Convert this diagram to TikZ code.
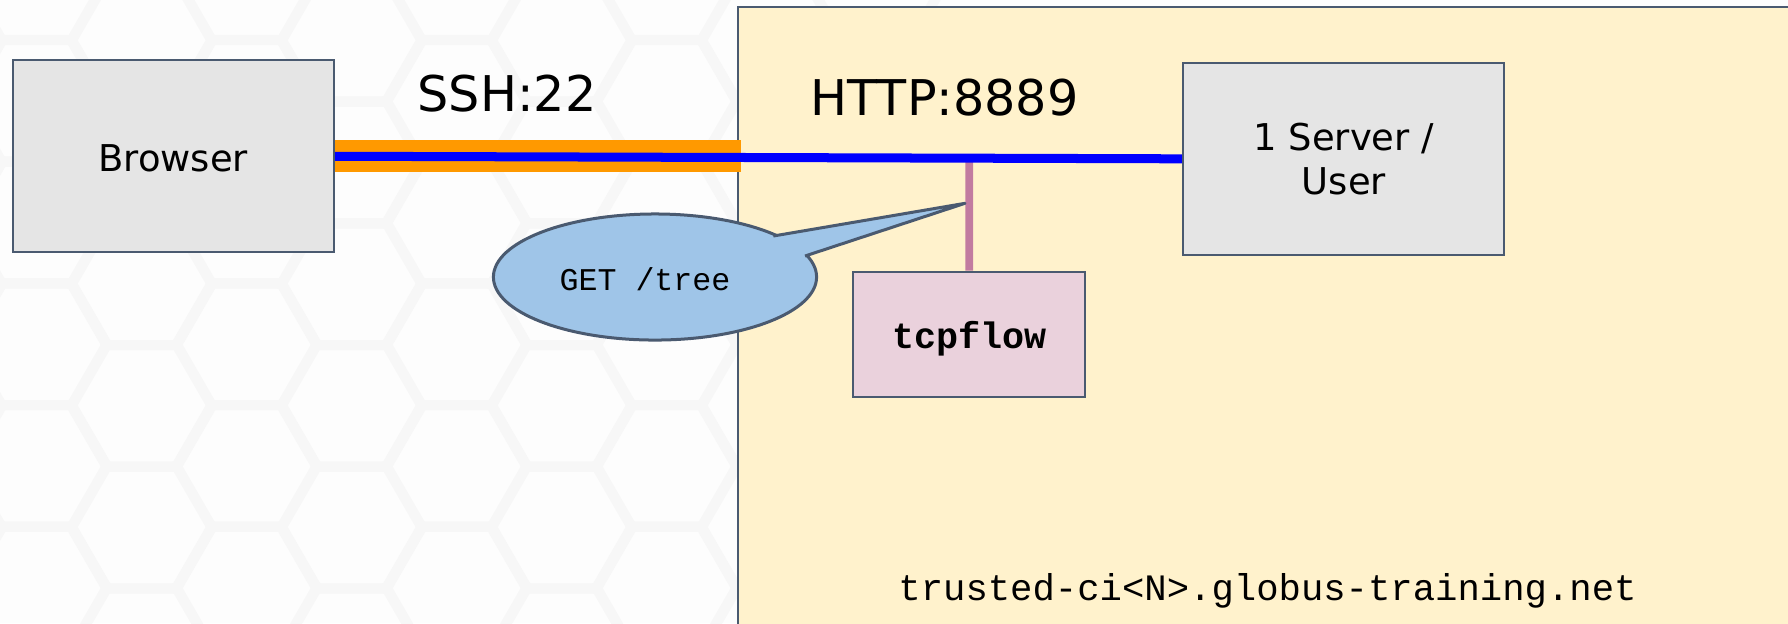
\documentclass[tikz,border=0pt]{standalone}
\usepackage{fontspec}
\setmainfont{DejaVu Sans}
\newfontfamily\monofont{Liberation Mono}
\usetikzlibrary{shapes.geometric}
\pgfdeclarelayer{bg}
\pgfdeclarelayer{wires}
\pgfsetlayers{bg,wires,main}
\definecolor{edgec}{HTML}{4A5A70}
\definecolor{boxgray}{HTML}{E5E5E5}
\definecolor{hostyellow}{HTML}{FFF2CC}
\definecolor{flowpink}{HTML}{EAD1DC}
\definecolor{callblue}{HTML}{9FC5E8}
\definecolor{tapmagenta}{HTML}{C27BA0}
\definecolor{sshorange}{HTML}{FF9900}
\definecolor{httpblue}{HTML}{0000FF}
\definecolor{hexgray}{HTML}{F7F7F7}
\definecolor{hexfill}{HTML}{FDFDFD}
\tikzset{
  hexline/.style={draw=hexgray, line width=0.10cm},
  hostarea/.style={draw=edgec, fill=hostyellow, line width=0.02cm},
  hostbox/.style={draw=edgec, line width=0.02cm, fill=boxgray, inner sep=0pt,
    minimum width=3.21cm, minimum height=1.915cm, align=center,
    font=\fontsize{10.5pt}{12.5pt}\selectfont},
  flowbox/.style={draw=edgec, line width=0.02cm, fill=flowpink, inner sep=0pt,
    minimum width=2.317cm, minimum height=1.25cm,
    font=\monofont\bfseries\fontsize{10.45pt}{12pt}\selectfont},
  bubblestyle/.style={ellipse, draw=edgec, fill=callblue, line width=0.03cm,
    inner sep=0pt, minimum width=3.23cm, minimum height=1.26cm},
  bubbletail/.style={draw=edgec, line width=0.03cm, line join=round},
  protolabel/.style={inner sep=0pt, anchor=base west, font=\fontsize{14pt}{16pt}\selectfont},
  monolabel/.style={inner sep=0pt, anchor=base, font=\monofont\fontsize{9pt}{11pt}\selectfont},
  hostlabel/.style={inner sep=0pt, anchor=base, font=\monofont\fontsize{10.6pt}{12pt}\selectfont},
  sshline/.style={draw=sshorange, line width=0.316cm},
  httpline/.style={draw=httpblue, line width=0.09cm},
  tapline/.style={draw=tapmagenta, line width=0.077cm}
}
\begin{document}
\begin{tikzpicture}[x=0.01cm,y=-0.01cm]
\useasboundingbox (0,0) rectangle (1788,623);
\begin{pgfonlayer}{bg}
  \fill[hexfill] (0,0) rectangle (1788,623);
  \foreach \k in {-1,...,8}{
    \pgfmathsetmacro{\cx}{36.7+105*\k}
    \pgfmathsetmacro{\yo}{mod(\k,2)==0 ? -20.9 : 40.8}
    \foreach \m in {0,...,6}{
      \pgfmathsetmacro{\cy}{\yo+121.7*\m}
      \draw[hexline] (\cx,\cy) +(70.2,0) -- +(35.1,60.8) -- +(-35.1,60.8)
        -- +(-70.2,0) -- +(-35.1,-60.8) -- +(35.1,-60.8) -- cycle;
    }
  }
  \draw[hostarea] (738.3,7.3) rectangle (1800,640);
\end{pgfonlayer}

\node[hostbox, text height=0.305cm, text depth=0pt] (browser) at (173.25,156.25) {Browser};
\node[hostbox] (server) at (1343.8,158.8) {1 Server /\\User};
\node[flowbox, text height=0.3cm, text depth=0.018cm] (tcpflow) at (969.2,334.2) {tcpflow};

\node[protolabel] (ssh) at (417,111) {SSH:22};
\node[protolabel] (http) at (810,115) {HTTP:8889};

\node[bubblestyle] (bubble) at (655,277) {};
\coordinate (j1) at (773.3,236);
\coordinate (j2) at (805,256);
\coordinate (tip) at (965,203.3);
\fill[callblue] (j1) -- (tip) -- (j2) -- (bubble.center) -- cycle;
\draw[bubbletail] (j1) -- (tip) -- (j2);
\node[monolabel] (get) at (645,290.7) {GET /tree};

\node[hostlabel] (hostname) at (1267.5,600.5) {trusted-ci<N>.globus-training.net};

\begin{pgfonlayer}{wires}
  \coordinate (sshend) at (740.7,156.25);
  \coordinate (tap) at (969.3,158);
  \draw[sshline] (browser.east) -- (sshend);
  \draw[tapline] (tap) -- (tcpflow.north);
  \draw[httpline] (browser.east) -- (server.west);
\end{pgfonlayer}
\end{tikzpicture}
\end{document}
